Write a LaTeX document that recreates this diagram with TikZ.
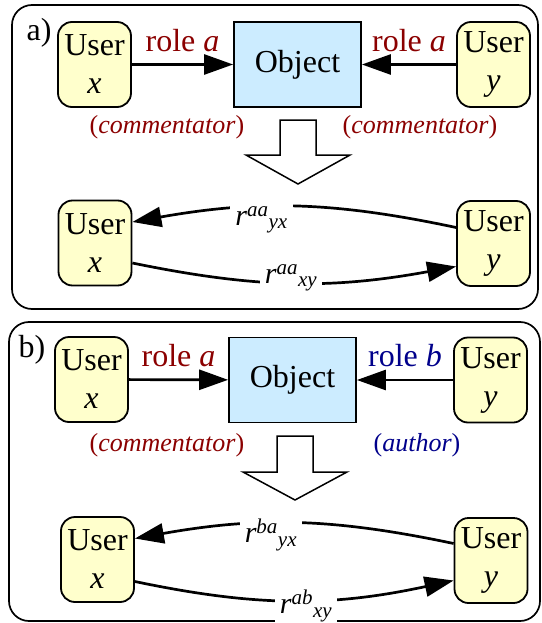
\documentclass[tikz,border=0pt]{standalone}
\usepackage{fontspec}
\setmainfont{Liberation Serif}
\usetikzlibrary{arrows.meta}
\definecolor{userfill}{RGB}{255,255,204}
\definecolor{objfill}{RGB}{204,236,255}
\definecolor{rolered}{RGB}{139,0,0}
\definecolor{roleblue}{RGB}{0,0,139}
\newcommand{\rval}[2]{$\mathit{r}^{\mathit{#1}}{}_{\mathit{#2}}$}
\tikzset{
  user/.style={draw, line width=1.8pt, rounded corners=14pt, fill=userfill,
    minimum width=73pt, minimum height=85pt, inner sep=2pt, align=center,
    font=\fontsize{32}{38}\selectfont},
  object/.style={draw, line width=1.8pt, fill=objfill, minimum width=127pt,
    minimum height=85pt, font=\fontsize{32}{38}\selectfont},
  link/.style={line width=2.7pt, -{Triangle[length=29pt,width=20pt]}},
  role/.style={font=\fontsize{32}{38}\selectfont},
  note/.style={font=\fontsize{26}{30}\selectfont},
  rlabel/.style={fill=white, inner sep=5pt, font=\fontsize{30}{34}\selectfont},
  frame/.style={line width=1.7pt, rounded corners=20pt},
  bigarrow/.style={line width=1.5pt, fill=white}
}
\begin{document}
\begin{tikzpicture}[x=1pt, y=-1pt]
  \useasboundingbox (0,0) rectangle (541,623);
  % a)
  \draw[frame] (12,5) rectangle (538,309);
  \node[role] (laba) at (39,33) {a)};
  \node[user] (xa1) at (94.5,64.5) {User\\\textit{x}};
  \node[object] (oa) at (297.5,64.5) {Object};
  \node[user] (ya1) at (493.5,64.5) {User\\\textit{y}};
  \draw[link] (xa1) -- node[role, text=rolered, midway, yshift=24pt] {role \textit{a}} (oa);
  \draw[link] (ya1) -- node[role, text=rolered, midway, yshift=24pt] {role \textit{a}} (oa);
  \node[note, text=rolered] (cxa) at (167,127) {(\textit{commentator})};
  \node[note, text=rolered] (cya) at (420,127) {(\textit{commentator})};
  \draw[bigarrow] (280,120) -- (316,120) -- (316,155) -- (350,155) -- (298,184)
    -- (246,155) -- (280,155) -- cycle;
  \node[user] (xa2) at (95,243) {User\\\textit{x}};
  \node[user] (ya2) at (493.5,243.5) {User\\\textit{y}};
  \draw[link] ([yshift=16pt]ya2.west) to[bend right=11]
    node[rlabel, pos=0.61, yshift=-13pt] {\rval{aa}{yx}} ([yshift=21pt]xa2.east);
  \draw[link] ([yshift=-20pt]xa2.east) to[bend right=11]
    node[rlabel, pos=0.49, yshift=5pt] {\rval{aa}{xy}} ([yshift=-23pt]ya2.west);
  % b)
  \draw[frame] (9,322) rectangle (540,621);
  \node[role] (labb) at (32,350) {b)};
  \node[user] (xb1) at (91.5,379.5) {User\\\textit{x}};
  \node[object] (ob) at (292.5,380) {Object};
  \node[user] (yb1) at (490.5,380) {User\\\textit{y}};
  \draw[link] (xb1) -- node[role, text=rolered, midway, yshift=24pt] {role \textit{a}} (ob);
  \draw[link] (yb1) -- node[role, text=roleblue, midway, yshift=24pt] {role \textit{b}} (ob);
  \node[note, text=rolered] (cxb) at (167,445) {(\textit{commentator})};
  \node[note, text=roleblue] (cyb) at (417,445) {(\textit{author})};
  \draw[bigarrow] (277,436) -- (313,436) -- (313,472) -- (347,472) -- (295,500)
    -- (243,472) -- (277,472) -- cycle;
  \node[user] (xb2) at (97.5,559.5) {User\\\textit{x}};
  \node[user] (yb2) at (491,560.5) {User\\\textit{y}};
  \draw[link] ([yshift=17pt]yb2.west) to[bend right=11]
    node[rlabel, pos=0.58, yshift=-12pt] {\rval{ba}{yx}} ([yshift=21pt]xb2.east);
  \draw[link] ([yshift=-22pt]xb2.east) to[bend right=12]
    node[rlabel, pos=0.54, yshift=-6pt] {\rval{ab}{xy}} ([yshift=-20pt]yb2.west);
\end{tikzpicture}
\end{document}
